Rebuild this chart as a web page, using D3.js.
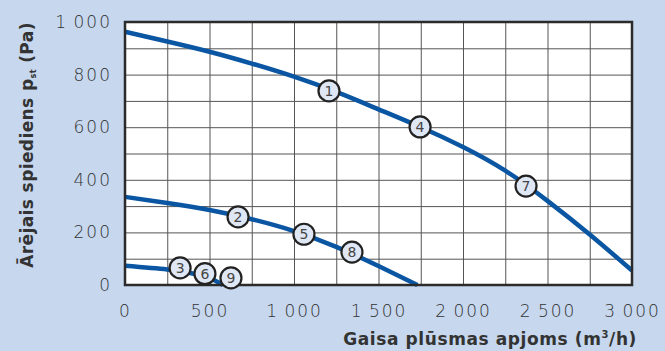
<!DOCTYPE html>
<html>
<head>
<meta charset="utf-8">
<script src="https://cdn.jsdelivr.net/npm/d3@7"></script>
<style>
  body { margin: 0; background: #c6d7ee; }
  svg { display: block; }
</style>
</head>
<body>
<div id="grafiks"></div>
<script>
// datu sērijas: plūsma (m3/h) un spiediens (Pa)
var liknes1 = [[0, 963], [250, 926], [500, 887], [750, 842], [1000, 792], [1250, 734], [1500, 668], [1750, 600], [2000, 525], [2250, 435], [2500, 320], [2750, 192], [3000, 55]];
var liknes2 = [[0, 335], [250, 312], [500, 285], [750, 250], [1000, 205], [1250, 145], [1500, 72], [1730, 0]];
var liknes3 = [[0, 73], [250, 59], [400, 44], [500, 26], [580, 0]];

var punkti = [
  ['1', 1207, 738], ['2', 669, 259], ['3', 326, 65], ['4', 1746, 601], ['5', 1059, 193],
  ['6', 473, 43], ['7', 2373, 376], ['8', 1343, 125], ['9', 627, 27]
];

var xTicks = [0, 500, 1000, 1500, 2000, 2500, 3000];
var yTicks = [0, 200, 400, 600, 800, 1000];

var chart_width = 665, chart_height = 351;
var m_left = 125, m_right = 632, m_top = 22, m_bottom = 285;

var svg = d3.select('#grafiks').append('svg')
    .attr('width', chart_width)
    .attr('height', chart_height);

var x = d3.scaleLinear().domain([0, 3000]).range([m_left, m_right]);
var y = d3.scaleLinear().domain([0, 1000]).range([m_bottom, m_top]);

var fonts = "'DejaVu Sans', 'Open Sans', sans-serif";

// balts laukums
svg.append('rect')
    .attr('x', m_left).attr('y', m_top)
    .attr('width', m_right - m_left).attr('height', m_bottom - m_top)
    .attr('fill', '#fff');

// režģis
svg.append('g')
    .attr('transform', 'translate(0,' + m_bottom + ')')
    .call(d3.axisBottom(x).tickValues(d3.range(250, 3000, 250)).tickSize(-(m_bottom - m_top)).tickFormat(''))
    .call(function (g) { g.select('.domain').remove(); })
    .selectAll('line').attr('stroke', '#555').attr('stroke-width', 1);

svg.append('g')
    .attr('transform', 'translate(' + m_left + ',0)')
    .call(d3.axisLeft(y).tickValues(d3.range(100, 1000, 100)).tickSize(-(m_right - m_left)).tickFormat(''))
    .call(function (g) { g.select('.domain').remove(); })
    .selectAll('line').attr('stroke', '#555').attr('stroke-width', 1);

// ass teksti
var fmt = function (d) { return d >= 1000 ? d3.format(',')(d).replace(',', '\u2009') : d; };

var xAxis = svg.append('g')
    .attr('transform', 'translate(0,' + m_bottom + ')')
    .call(d3.axisBottom(x).tickValues(xTicks).tickSize(0).tickPadding(20).tickFormat(fmt));
xAxis.select('.domain').remove();
xAxis.selectAll('text').attr('font-size', 17).attr('font-weight', 200).attr('letter-spacing', 2)
    .attr('font-family', fonts).attr('fill', '#333');

var yAxis = svg.append('g')
    .attr('transform', 'translate(' + m_left + ',0)')
    .call(d3.axisLeft(y).tickValues(yTicks).tickSize(0).tickPadding(13).tickFormat(fmt));
yAxis.select('.domain').remove();
yAxis.selectAll('text').attr('font-size', 17).attr('font-weight', 200).attr('letter-spacing', 2)
    .attr('font-family', fonts).attr('fill', '#333');

// līknes
var line = d3.line()
    .x(function (d) { return x(d[0]); })
    .y(function (d) { return y(d[1]); })
    .curve(d3.curveNatural);

var plot = svg.append('g');
[liknes1, liknes2, liknes3].forEach(function (s) {
    plot.append('path')
        .attr('d', line(s))
        .attr('fill', 'none')
        .attr('stroke', '#0a56a3')
        .attr('stroke-width', 4.5);
});

// rāmis
svg.append('rect')
    .attr('x', m_left).attr('y', m_top)
    .attr('width', m_right - m_left).attr('height', m_bottom - m_top)
    .attr('fill', 'none')
    .attr('stroke', '#2b2b2b')
    .attr('stroke-width', 2.5);

// numurēti apļi
var p = svg.append('g').selectAll('g').data(punkti).enter().append('g')
    .attr('transform', function (d) { return 'translate(' + x(d[1]) + ',' + y(d[2]) + ')'; });
p.append('circle')
    .attr('r', 10.5)
    .attr('fill', '#dfe6f4')
    .attr('stroke', '#222')
    .attr('stroke-width', 2.2);
p.append('text')
    .attr('text-anchor', 'middle')
    .attr('dy', '0.36em')
    .attr('font-size', 14)
    .attr('font-family', fonts)
    .attr('fill', '#444')
    .text(function (d) { return d[0]; });

// nosaukumi
var xt = svg.append('text')
    .attr('x', 637).attr('y', 345)
    .attr('text-anchor', 'end')
    .attr('font-size', 17)
    .attr('letter-spacing', 0.6)
    .attr('font-weight', 'bold')
    .attr('font-family', fonts)
    .attr('fill', '#333');
xt.append('tspan').text('Gaisa plūsmas apjoms (m');
xt.append('tspan').attr('font-size', 10).attr('dy', -7).text('3');
xt.append('tspan').attr('dy', 7).text('/h)');

var yt = svg.append('text')
    .attr('transform', 'translate(33,145) rotate(-90)')
    .attr('text-anchor', 'middle')
    .attr('font-size', 17)
    .attr('letter-spacing', 0.4)
    .attr('font-weight', 'bold')
    .attr('font-family', fonts)
    .attr('fill', '#333');
yt.append('tspan').text('Ārējais spiediens p');
yt.append('tspan').attr('font-size', 8).attr('dy', 3).text('st');
yt.append('tspan').attr('dy', -3).text(' (Pa)');
</script>
</body>
</html>
